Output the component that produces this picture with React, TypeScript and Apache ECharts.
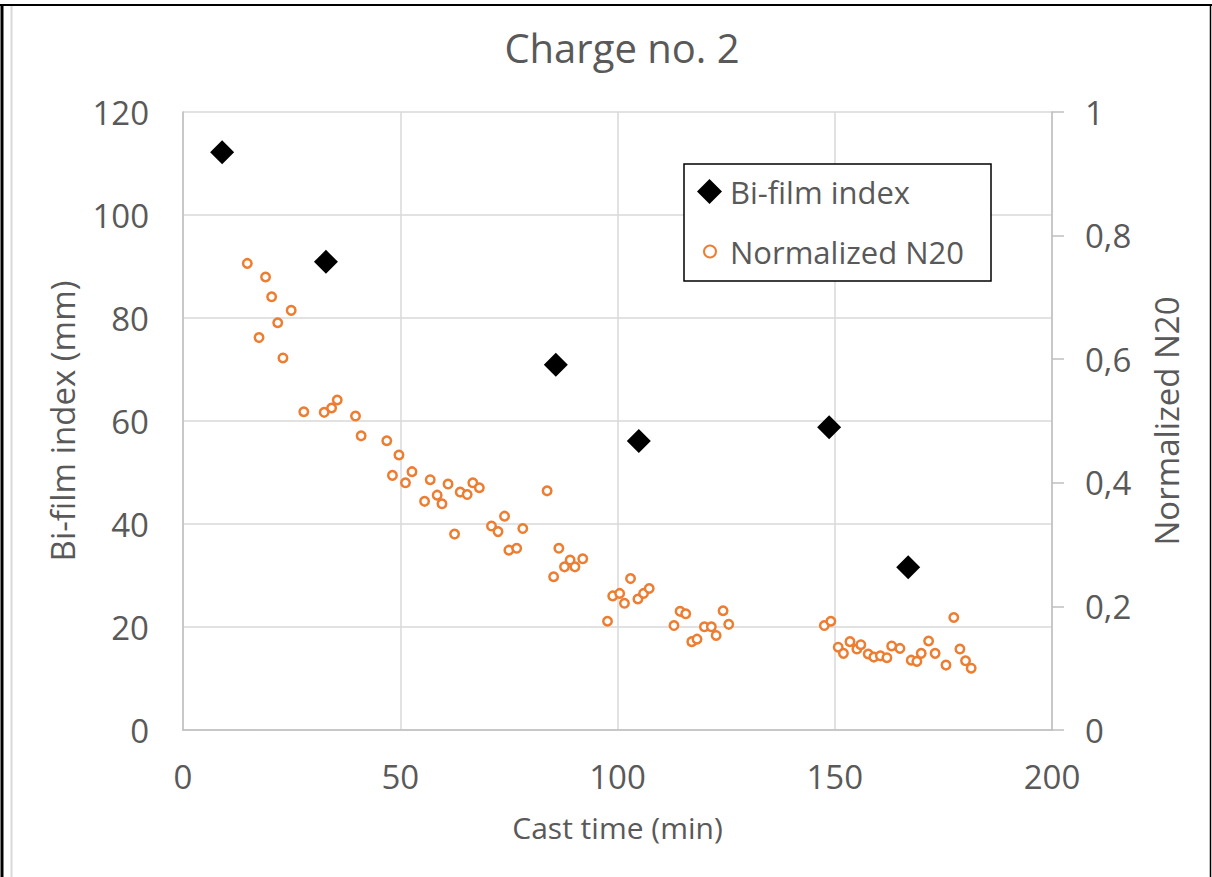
import React, { useEffect, useRef } from "react";
import * as echarts from "echarts";

const titleText = "Charge no. 2";
const xAxisName = "Cast time (min)";
const leftAxisName = "Bi-film index (mm)";
const rightAxisName = "Normalized N20";
const biFilmName = "Bi-film index";
const n20Name = "Normalized N20";

const biFilmTime = [9.0, 32.9, 85.8, 104.9, 148.7, 166.9];
const biFilmIndex = [112.2, 90.9, 70.9, 56.1, 58.8, 31.6];

const n20Time = [
  14.8, 17.5, 19.0, 20.4, 21.8, 23.0, 24.9, 27.8, 32.5, 34.2, 35.5, 39.7, 41.0,
  46.9, 48.2, 49.7, 51.2, 52.7, 55.6, 56.9, 58.5, 59.6, 61.0, 62.5, 63.8, 65.4,
  66.7, 68.2, 71.0, 72.5, 74.0, 75.0, 76.8, 78.2, 83.8, 85.3, 86.5, 87.8, 89.1,
  90.2, 92.0, 97.7, 98.9, 100.5, 101.6, 103.0, 104.7, 106.0, 107.3, 113.0,
  114.4, 115.7, 117.1, 118.3, 120.0, 121.6, 122.7, 124.3, 125.6, 147.6, 149.1,
  150.8, 152.0, 153.5, 155.1, 156.0, 157.7, 159.0, 160.5, 162.0, 163.1, 165.0,
  167.6, 168.9, 169.9, 171.6, 173.1, 175.6, 177.4, 178.8, 180.1, 181.4,
];
const n20Value = [
  0.755, 0.635, 0.733, 0.701, 0.659, 0.602, 0.679, 0.515, 0.514, 0.521, 0.534,
  0.508, 0.476, 0.468, 0.412, 0.445, 0.4, 0.418, 0.37, 0.405, 0.38, 0.366,
  0.398, 0.317, 0.385, 0.381, 0.4, 0.392, 0.33, 0.321, 0.346, 0.291, 0.294,
  0.326, 0.387, 0.248, 0.294, 0.264, 0.275, 0.264, 0.277, 0.176, 0.217, 0.221,
  0.205, 0.245, 0.212, 0.221, 0.229, 0.169, 0.192, 0.188, 0.143, 0.147, 0.167,
  0.167, 0.153, 0.193, 0.171, 0.169, 0.176, 0.134, 0.124, 0.143, 0.131, 0.138,
  0.123, 0.118, 0.12, 0.117, 0.136, 0.132, 0.113, 0.111, 0.124, 0.144, 0.124,
  0.105, 0.182, 0.131, 0.112, 0.1,
];

const FONT = "'Open Sans', sans-serif";
const TXT = "#595959";
const ORANGE = "#ED7D31";

export default function App() {
  const ref = useRef<HTMLDivElement>(null);
  useEffect(() => {
    document.body.style.margin = "0";
    if (!ref.current) return;
    const chart = echarts.init(ref.current, undefined, { renderer: "svg" });
    const option: any = {
      animation: false,
      backgroundColor: "#fff",
      textStyle: { fontFamily: FONT },
      title: {
        text: titleText,
        left: 617,
        textAlign: "center",
        top: 22,
        textStyle: { fontFamily: FONT, fontSize: 40, fontWeight: "normal", color: TXT },
      },
      grid: { left: 183, right: 160, top: 112, bottom: 147 },
      xAxis: {
        type: "value",
        min: 0,
        max: 200,
        interval: 50,
        name: xAxisName,
        nameLocation: "middle",
        nameGap: 82,
        nameTextStyle: { fontFamily: FONT, fontSize: 30, color: TXT },
        axisLine: { show: true, lineStyle: { color: "#bfbfbf", width: 1.5 } },
        axisTick: { show: false },
        axisLabel: { fontFamily: FONT, fontSize: 33, color: TXT, margin: 30 },
        splitLine: { show: true, lineStyle: { color: "#d9d9d9", width: 1.5 } },
      },
      yAxis: [
        {
          type: "value",
          min: 0,
          max: 120,
          interval: 20,
          position: "left",
          name: leftAxisName,
          nameLocation: "middle",
          nameRotate: 90,
          nameGap: 104,
          nameTextStyle: { fontFamily: FONT, fontSize: 33, color: TXT },
          axisLine: { show: true, lineStyle: { color: "#bfbfbf", width: 1.5 } },
          axisTick: { show: false },
          axisLabel: { fontFamily: FONT, fontSize: 33, color: TXT, margin: 34 },
          splitLine: { show: true, lineStyle: { color: "#d9d9d9", width: 1.5 } },
        },
        {
          type: "value",
          min: 0,
          max: 1,
          interval: 0.2,
          position: "right",
          name: rightAxisName,
          nameLocation: "middle",
          nameRotate: 90,
          nameGap: 98,
          nameTextStyle: { fontFamily: FONT, fontSize: 33, color: TXT },
          axisLine: { show: true, lineStyle: { color: "#bfbfbf", width: 1.5 } },
          axisTick: { show: true, inside: false, length: 12, lineStyle: { color: "#bfbfbf", width: 1.5 } },
          axisLabel: {
            fontFamily: FONT,
            fontSize: 33,
            color: TXT,
            margin: 33,
            formatter: (v: number) =>
              v === 0 ? "0" : v === 1 ? "1" : v.toFixed(1).replace(".", ","),
          },
          splitLine: { show: false },
        },
      ],
      legend: [
        {
          data: [biFilmName],
          left: 697,
          top: 176,
          padding: 0,
          itemWidth: 25,
          itemHeight: 25,
          textStyle: { fontFamily: FONT, fontSize: 31, color: TXT, padding: [0, 0, 0, 3] },
          z: 6,
        },
        {
          data: [n20Name],
          left: 703,
          top: 236,
          padding: 0,
          itemWidth: 12,
          itemHeight: 12,
          textStyle: { fontFamily: FONT, fontSize: 31, color: TXT, padding: [0, 0, 0, 9] },
          z: 6,
        },
      ],
      graphic: [
        {
          type: "rect",
          z: 5,
          shape: { x: 684, y: 164, width: 307, height: 117 },
          style: { fill: "#fff", stroke: "#000", lineWidth: 1.5 },
        },
        { type: "line", z: 10, shape: { x1: 0, y1: 5, x2: 1212, y2: 5 }, style: { stroke: "#000", lineWidth: 2 } },
        { type: "line", z: 10, shape: { x1: 2, y1: 4, x2: 2, y2: 877 }, style: { stroke: "#000", lineWidth: 3 } },
        { type: "line", z: 10, shape: { x1: 1210.5, y1: 4, x2: 1210.5, y2: 877 }, style: { stroke: "#000", lineWidth: 1.5 } },
        { type: "line", z: 10, shape: { x1: 11.5, y1: 6, x2: 11.5, y2: 877 }, style: { stroke: "#d9d9d9", lineWidth: 2 } },
      ],
      series: [
        {
          name: n20Name,
          type: "scatter",
          yAxisIndex: 1,
          symbol: "circle",
          symbolSize: 8.5,
          itemStyle: { color: "#fff", borderColor: ORANGE, borderWidth: 2.5, opacity: 1 },
          data: n20Time.map((t, i) => [t, n20Value[i]]),
          z: 3,
        },
        {
          name: biFilmName,
          type: "scatter",
          yAxisIndex: 0,
          symbol: "diamond",
          symbolSize: 24,
          itemStyle: { color: "#000", opacity: 1 },
          data: biFilmTime.map((t, i) => [t, biFilmIndex[i]]),
          z: 4,
        },
      ],
    };
    chart.setOption(option);
    return () => chart.dispose();
  }, []);
  return <div ref={ref} style={{ width: 1212, height: 877 }} />;
}
